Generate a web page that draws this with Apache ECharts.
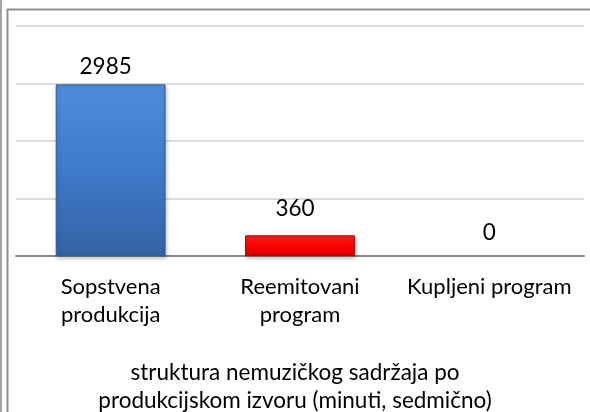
<!DOCTYPE html>
<html>
<head>
<meta charset="utf-8">
<script src="https://cdn.jsdelivr.net/npm/echarts@6/dist/echarts.min.js"></script>
<style>
  html, body { margin: 0; padding: 0; background: #fff; }
  #main { width: 590px; height: 412px; }
</style>
</head>
<body>
<div id="main"></div>
<script>
// podaci
var categories = ['Sopstvena\nprodukcija', 'Reemitovani\nprogram', 'Kupljeni program'];
var values = [2985, 360, 0];
var axisTitle = 'struktura nemuzičkog sadržaja po\nprodukcijskom izvoru (minuti, sedmično)';

var FONT = 'Lato';

var blue = new echarts.graphic.LinearGradient(0, 0, 0, 1, [
  { offset: 0, color: '#4f8ddb' },
  { offset: 0.5, color: '#3f7acb' },
  { offset: 1, color: '#3463a4' }
]);
var red = new echarts.graphic.LinearGradient(0, 0, 0, 1, [
  { offset: 0, color: '#ff2020' },
  { offset: 0.5, color: '#ff0000' },
  { offset: 1, color: '#d60000' }
]);

var styles = [
  { color: blue, borderColor: '#2f5b96', dist: 6, dx: -5 },
  { color: red, borderColor: '#b80000', dist: 15, dx: -5 },
  { color: '#ccc', borderColor: '#ccc', dist: 12, dx: 0 }
];

var myChart = echarts.init(document.getElementById('main'));

myChart.setOption({
  animation: false,
  textStyle: { fontFamily: FONT },
  grid: { left: 16, right: 6, top: 26, bottom: 156 },
  graphic: [
    { type: 'rect', shape: { x: 0, y: 0, width: 2, height: 412 }, style: { fill: '#a3a3a3' } },
    { type: 'line', shape: { x1: 7.5, y1: 9, x2: 7.5, y2: 412 }, style: { stroke: '#8e8e8e', lineWidth: 2 } },
    { type: 'line', shape: { x1: 7, y1: 9.5, x2: 590, y2: 9.5 }, style: { stroke: '#8e8e8e', lineWidth: 2 } }
  ],
  title: {
    text: axisTitle,
    left: 'center',
    top: 354,
    textStyle: { fontFamily: FONT, fontSize: 22.5, fontWeight: 'normal', color: '#000', lineHeight: 28, align: 'center' }
  },
  xAxis: {
    type: 'category',
    data: categories,
    axisLine: { lineStyle: { color: '#868686', width: 2 } },
    axisTick: { show: false },
    axisLabel: { color: '#000', fontSize: 22, lineHeight: 28, margin: 17, interval: 0, fontFamily: FONT }
  },
  yAxis: {
    type: 'value',
    min: 0,
    max: 4000,
    interval: 1000,
    axisLabel: { show: false },
    axisLine: { show: false },
    axisTick: { show: false },
    splitLine: { lineStyle: { color: '#dcdcdc', width: 2 } }
  },
  series: [{
    type: 'bar',
    barWidth: '58%',
    data: values.map(function (v, i) {
      return {
        value: v,
        itemStyle: {
          color: styles[i].color,
          borderColor: styles[i].borderColor,
          borderWidth: v > 0 ? 1 : 0,
          shadowColor: 'rgba(0,0,0,0.25)',
          shadowBlur: 4,
          shadowOffsetX: 1,
          shadowOffsetY: 2
        },
        label: { distance: styles[i].dist, offset: [styles[i].dx, 0] }
      };
    }),
    label: {
      show: true,
      position: 'top',
      color: '#000',
      fontSize: 22.5,
      fontFamily: FONT
    }
  }]
});
</script>
</body>
</html>
